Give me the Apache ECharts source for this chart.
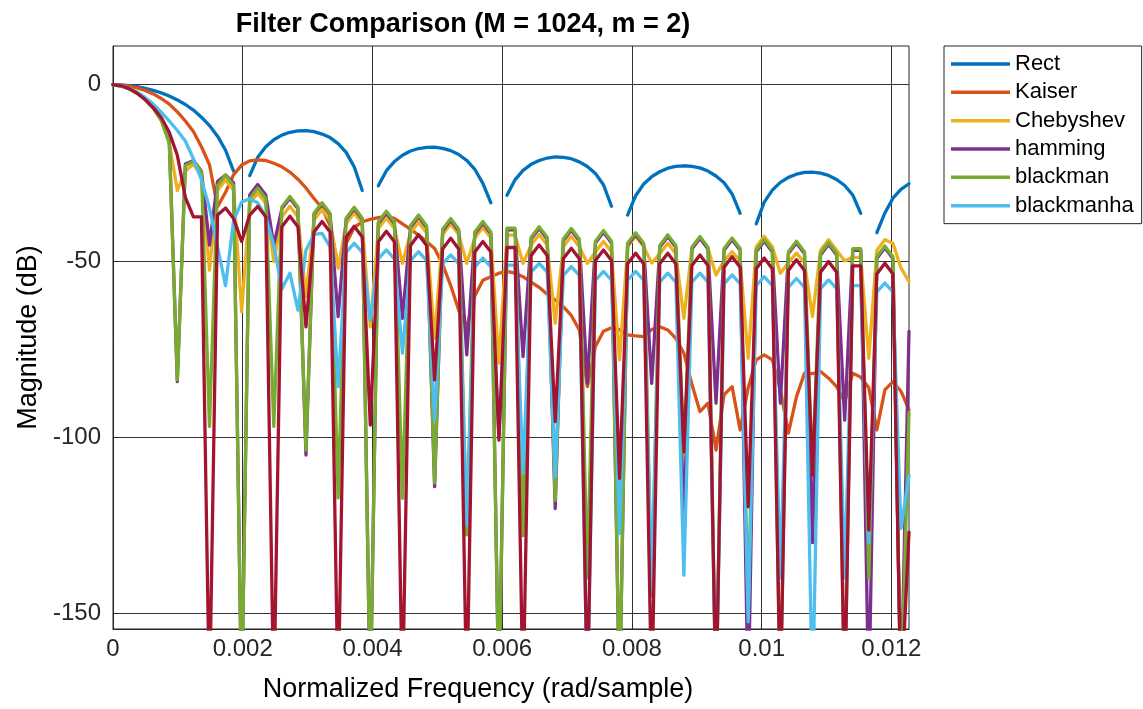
<!DOCTYPE html>
<html>
<head>
<meta charset="utf-8">
<title>Filter Comparison</title>
<script src="https://cdn.jsdelivr.net/npm/echarts@6.0.0/dist/echarts.min.js"></script>
<style>
  html, body { margin: 0; padding: 0; background: #fff; }
  #chart { width: 1143px; height: 709px; }
</style>
</head>
<body>
<div id="chart"></div>
<script>
// frequency axis: 100 samples from 0 to pi/256
const xMax = Math.PI / 256;
const xTicks = [0, 0.002, 0.004, 0.006, 0.008, 0.01, 0.012];
const yTicks = [-150, -100, -50, 0];

// magnitudes in dB (null = gap in the line)
const rect = [0, -0.07, -0.25, -0.55, -1.0, -1.6, -2.3, -3.2, -4.3, -5.6,
  -7.2, -9.2, -11.6, -14.6, -18.6, -24.5, null, -25.8, -20.6, -17.6,
  -15.6, -14.3, -13.5, -13.1, -13.0, -13.3, -14.0, -15.0, -16.7, -19.2,
  -23.3, -30.0, null, -28.7, -24.4, -21.8, -20.0, -18.8, -18.1, -17.75,
  -17.7, -18.05, -18.7, -19.8, -21.5, -24.0, -28.0, -33.5, null, -31.4,
  -27.0, -24.3, -22.6, -21.5, -20.8, -20.5, -20.6, -21.0, -21.9, -23.2,
  -25.2, -28.4, -34.5, null, -37.0, -31.5, -28.2, -26.1, -24.7, -23.7,
  -23.2, -23.0, -23.15, -23.6, -24.5, -25.9, -27.8, -31.0, -36.5, null,
  -39.5, -33.3, -29.9, -27.7, -26.3, -25.4, -24.9, -24.8, -25.1, -25.75,
  -26.9, -28.6, -31.3, -36.5, null, -42.0, -36.4, -32.2, -29.7, -28.1];

const kaiser = [0, -0.1, -0.4, -0.9, -1.6, -2.6, -3.9, -5.5, -7.7, -10.3,
  -13.3, -17.6, -22.7, -34.6, -30.5, -25.5, -22.8, -21.6, -21.3, -21.5,
  -22.3, -23.3, -24.8, -26.8, -29.3, -32.3, -35.0, -40.0, -51.5, -45.0,
  -40.5, -38.9, -38.2, -37.7, -37.4, -37.9, -39.5, -41.0, -42.7, -44.5,
  -46.5, -51.0, -57.0, -64.0, -68.7, -60.0, -55.5, -54.5, -53.5, -53.0,
  -53.5, -54.5, -56.0, -57.5, -59.5, -61.1, -63.0, -65.5, -69.6, -85.7,
  -74.3, -70.0, -69.0, -69.5, -71.0, -71.3, -71.5, -69.5, -68.7, -69.6,
  -72.0, -76.2, -85.0, -92.8, -90.4, -103.7, -88.0, -85.7, -98.0, -86.0,
  -78.1, -76.7, -78.1, -86.6, -98.9, -88.6, -81.9, -82.0, -81.4, -83.3,
  -85.7, -90.0, -81.9, -83.0, -86.0, -98.0, -86.6, -84.3, -87.0, -92.3];

const chebyshev = [0, -0.3, -1.1, -2.4, -4.2, -6.7, -10.2, -16.5, -30.0, -24.6,
  -22.5, -26.0, -52.6, -30.0, -27.0, -30.0, -64.4, -33.7, -30.7, -33.7,
  -50.2, -37.5, -34.5, -37.5, -60.1, -38.4, -35.4, -38.4, -52.1, -39.4,
  -36.4, -39.4, -68.7, -40.8, -37.8, -40.8, -50.7, -42.0, -39.0, -42.0,
  -72.0, -42.5, -39.5, -42.5, -50.7, -43.5, -40.5, -43.5, -79.0, -42.7,
  -42.7, -50.7, -45.5, -42.5, -45.5, -67.7, -46.0, -43.0, -46.0, -50.7,
  -47.5, -44.5, -47.5, -78.1, -46.0, -43.0, -46.0, -50.6, -48.0, -45.0,
  -48.0, -66.3, -46.5, -43.5, -46.5, -54.0, -50.0, -47.4, -50.0, -77.7,
  -46.0, -43.0, -46.0, -53.5, -50.5, -47.8, -50.5, -65.8, -47.0, -44.0,
  -47.0, -50.0, -49.0, -49.0, -77.7, -47.0, -44.0, -45.0, -52.0, -55.9];

const hamming = [0, -0.3, -1.1, -2.3, -4.1, -6.4, -9.8, -16.0, -84.3, -22.5,
  -21.5, -24.5, -45.5, -27.5, -25.6, -27.9, -175, -31.3, -28.3, -31.3,
  -45.5, -35.2, -32.2, -35.2, -105.1, -36.8, -33.8, -36.8, -65.8, -38.2,
  -35.2, -38.2, -175, -39.4, -36.4, -39.4, -66.3, -40.5, -37.5, -40.5,
  -114.1, -41.5, -38.5, -41.5, -76.7, -42.3, -39.3, -42.3, -175, -41.2,
  -41.2, -77.2, -43.8, -40.8, -43.8, -120.3, -44.3, -41.3, -44.3, -84.8,
  -44.9, -41.9, -44.9, -175, -45.5, -42.5, -45.5, -84.8, -46.1, -43.1,
  -46.1, -125.0, -46.6, -43.6, -46.6, -90.4, -47.0, -44.0, -47.0, -175,
  -47.4, -44.4, -47.4, -90.4, -47.9, -44.9, -47.9, -130.0, -48.3, -45.3,
  -48.3, -95.2, -47.0, -47.0, -175, -49.3, -46.3, -49.3, -175, -70.0];

const blackman = [0, -0.3, -1.1, -2.4, -4.2, -6.6, -10.0, -16.5, -83.8, -23.0,
  -21.7, -24.6, -97.0, -28.6, -25.6, -28.6, -175, -32.3, -29.3, -32.3,
  -97.0, -34.7, -31.7, -34.7, -103.7, -36.5, -33.5, -36.5, -117.3, -37.8,
  -34.8, -37.8, -175, -38.9, -35.9, -38.9, -117.4, -40.0, -37.0, -40.0,
  -113.0, -41.0, -38.0, -41.0, -127.8, -41.8, -38.8, -41.8, -175, -40.7,
  -40.7, -128.0, -43.3, -40.3, -43.3, -118.0, -43.8, -40.8, -43.8, -140.0,
  -44.4, -41.4, -44.4, -175, -45.0, -42.0, -45.0, -145.0, -45.6, -42.6,
  -45.6, -105.0, -46.1, -43.1, -46.1, -175, -46.5, -43.5, -46.5, -150.0,
  -46.9, -43.9, -46.9, -175, -47.4, -44.4, -47.4, -110.0, -47.8, -44.8,
  -47.8, -175, -46.5, -46.5, -140.0, -48.8, -45.8, -48.8, -175, -93.0];

const blackmanha = [0, -0.3, -1.0, -2.1, -3.6, -5.5, -7.8, -10.3, -13.0, -16.0,
  -21.0, -27.0, -35.0, -46.0, -57.0, -38.5, -33.3, -32.4, -33.5, -37.5,
  -45.5, -58.0, -53.5, -64.0, -47.0, -42.5, -42.2, -46.0, -85.7, -47.5,
  -45.0, -47.5, -66.8, -49.4, -46.9, -49.4, -76.2, -49.9, -47.4, -49.9,
  -95.0, -50.8, -48.3, -50.8, -125.0, -51.7, -49.2, -51.7, -100.0, -51.2,
  -51.2, -110.3, -53.2, -50.7, -53.2, -111.3, -54.1, -51.6, -54.1, -175,
  -55.5, -53.0, -55.5, -127.4, -55.5, -53.0, -55.5, -143.0, -56.0, -53.5,
  -56.0, -139.2, -56.0, -53.5, -56.0, -175, -56.5, -54.0, -56.5, -152.5,
  -57.0, -54.5, -57.0, -140.0, -57.5, -55.0, -57.5, -175, -57.9, -55.4,
  -57.9, -140.0, -57.0, -57.0, -130.0, -58.8, -56.3, -58.8, -126.0, -111.0];

// seventh curve, drawn but not listed in the legend
const extra = [0, -0.3, -1.1, -2.4, -4.2, -6.5, -9.3, -13.5, -20.0, -32.0,
  -37.5, -37.5, -175, -37.0, -35.0, -38.0, -44.5, -37.0, -34.5, -37.5,
  -175, -40.3, -37.3, -40.3, -68.7, -41.8, -38.8, -41.8, -175, -43.2,
  -40.2, -43.2, -96.6, -44.6, -41.6, -44.6, -175, -45.6, -42.6, -45.6,
  -83.8, -46.6, -43.6, -46.6, -175, -47.5, -44.5, -47.5, -100.9, -46.2,
  -46.2, -175, -48.5, -45.5, -48.5, -95.6, -49.4, -46.4, -49.4, -175,
  -49.9, -46.9, -49.9, -111.7, -50.8, -47.8, -50.8, -175, -50.8, -47.8,
  -50.8, -104.2, -51.3, -48.3, -51.3, -175, -51.8, -48.8, -51.8, -119.8,
  -52.2, -49.2, -52.2, -175, -52.7, -49.7, -52.7, -110.8, -53.2, -50.2,
  -53.2, -175, -51.4, -51.4, -126.4, -53.7, -50.7, -53.7, -175, -127.0];

const names = ['Rect', 'Kaiser', 'Chebyshev', 'hamming', 'blackman', 'blackmanha'];
const colors = ['#0072BD', '#D95319', '#EDB120', '#7E2F8E', '#77AC30', '#4DBEEE', '#A2142F'];
const curves = [rect, kaiser, chebyshev, hamming, blackman, blackmanha, extra];

function toPairs(vals) {
  const step = xMax / (vals.length - 1);
  return vals.map((v, i) => [i * step, v === null ? '-' : v]);
}

const font = 'Liberation Sans, Arial, Helvetica, sans-serif';
const ink = '#262626';

let myChart = echarts.init(document.getElementById('chart'));
myChart.setOption({
  animation: false,
  backgroundColor: '#fff',
  title: {
    text: 'Filter Comparison (M = 1024, m = 2)',
    left: 458,
    top: 6,
    textAlign: 'center',
    textStyle: { fontFamily: font, fontSize: 27, fontWeight: 'bold', color: '#000' }
  },
  legend: {
    data: names,
    orient: 'vertical',
    left: 944,
    top: 46,
    padding: [7, 8, 7, 7],
    icon: 'rect',
    itemWidth: 59,
    itemHeight: 3.5,
    itemGap: 6.33,
    backgroundColor: '#fff',
    borderColor: ink,
    borderWidth: 1,
    borderRadius: 0,
    textStyle: { fontFamily: font, fontSize: 22, color: '#000', lineHeight: 22 }
  },
  grid: {
    left: 113,
    right: 234,
    top: 46,
    bottom: 80,
    show: true,
    borderColor: ink,
    borderWidth: 1,
    backgroundColor: '#fff'
  },
  xAxis: {
    type: 'value',
    min: 0,
    max: xMax,
    name: 'Normalized Frequency (rad/sample)',
    nameLocation: 'middle',
    nameGap: 47,
    nameTextStyle: { fontFamily: font, fontSize: 27, color: '#000', padding: [0, 66, 0, 0] },
    axisLine: { show: true, onZero: false, lineStyle: { color: ink } },
    axisTick: { show: true, inside: true, length: 6, customValues: xTicks, lineStyle: { color: ink } },
    axisLabel: { customValues: xTicks, margin: 8, fontFamily: font, fontSize: 24, color: ink },
    splitLine: { show: true, lineStyle: { color: '#333', width: 1 } }
  },
  yAxis: {
    type: 'value',
    min: -154.5,
    max: 11,
    name: 'Magnitude (dB)',
    nameLocation: 'middle',
    nameRotate: 90,
    nameGap: 70,
    nameTextStyle: { fontFamily: font, fontSize: 27, color: '#000' },
    axisLine: { show: true, lineStyle: { color: ink } },
    axisTick: { show: true, inside: true, length: 6, customValues: yTicks, lineStyle: { color: ink } },
    axisLabel: { customValues: yTicks, margin: 12, fontFamily: font, fontSize: 24, color: ink },
    splitLine: { show: true, lineStyle: { color: '#333', width: 1 } }
  },
  series: curves.map((vals, k) => ({
    name: k < names.length ? names[k] : 'extra',
    type: 'line',
    data: toPairs(vals),
    showSymbol: false,
    symbol: 'none',
    clip: true,
    color: colors[k],
    lineStyle: { width: 3.3, color: colors[k], join: 'round', cap: 'round' },
    z: 2 + k
  }))
});
</script>
</body>
</html>
